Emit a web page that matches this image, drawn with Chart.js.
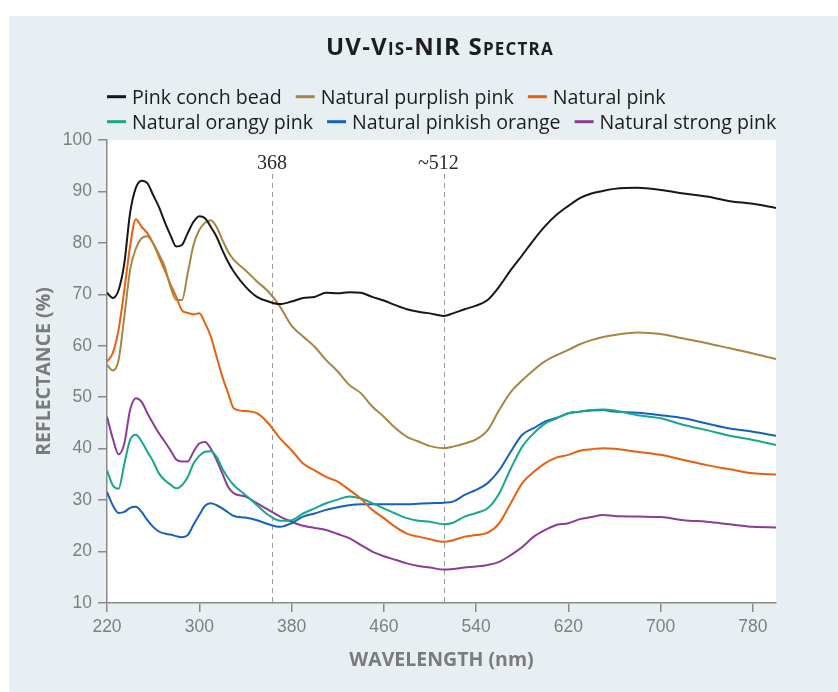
<!DOCTYPE html>
<html>
<head>
<meta charset="utf-8">
<title>UV-Vis-NIR Spectra</title>
<script src="https://cdn.jsdelivr.net/npm/chart.js@4.4.1/dist/chart.umd.min.js"></script>
<style>
  html, body { margin: 0; padding: 0; background: #fff; }
  #wrap { width: 838px; height: 692px; }
</style>
</head>
<body>
<div id="wrap"><canvas id="spectra" width="838" height="692"></canvas></div>
<script>
// wavelengths (nm) shared by all six spectra
const wavelengths = [220, 225, 230, 235, 240, 245, 250, 255, 260, 265, 270, 275, 280, 285, 290, 295, 300, 305, 310, 315, 320, 325, 330,
  340, 350, 360, 370, 380, 390, 400, 410, 420, 430, 440, 450, 460, 470, 480, 490, 500, 512,
  520, 530, 540, 550, 560, 570, 580, 590, 600, 610, 620, 630, 640, 650, 660, 680, 700, 720, 740, 760, 780, 800];

// reflectance (%)
const pinkConchBead = [70.3, 69.3, 70.8, 76, 85.8, 90.7, 92.1, 91.6, 89.3, 87, 84.1, 81.5, 79.3, 79.6, 81.9, 84.1, 85.2, 84.8, 83.1, 81.2, 78.6, 76.3, 74.4,
  71.5, 69.5, 68.6, 68.1, 68.6, 69.3, 69.5, 70.3, 70.2, 70.4, 70.3, 69.5, 68.8, 67.9, 67.1, 66.6, 66.3, 65.8,
  66.3, 67.1, 67.8, 68.9, 71.5, 74.7, 77.6, 80.6, 83.3, 85.5, 87.2, 88.7, 89.6, 90.1, 90.5, 90.7, 90.3, 89.6, 89.0, 88.1, 87.6, 86.8];
const purplishPink = [56.3, 55.2, 57.2, 65.6, 74.7, 78.9, 80.9, 81.3, 79.9, 77.8, 75.4, 71.5, 68.9, 68.9, 74.1, 79.6, 82.5, 83.9, 84.4, 83.1, 80.6, 78.3, 76.7,
  74.7, 72.5, 70.5, 67.6, 63.9, 61.8, 59.8, 57.2, 55, 52.4, 50.8, 48.2, 46.2, 44, 42.3, 41.4, 40.5, 40.1,
  40.4, 41, 41.8, 43.6, 47.5, 51, 53.3, 55.3, 57, 58.2, 59.2, 60.3, 61.1, 61.7, 62.1, 62.6, 62.3, 61.4, 60.5, 59.5, 58.5, 57.4];
const naturalPink = [56.9, 58.6, 63.1, 70.8, 79.3, 84.6, 83.1, 81.9, 79.9, 77.3, 74.7, 72, 69.5, 66.9, 66.4, 66.1, 66.3, 64.4, 61.8, 57.9, 54, 50.8, 47.8,
  47.3, 46.9, 44.9, 42, 39.7, 37.1, 35.8, 34.5, 33.6, 32, 30.3, 28.1, 26.5, 24.8, 23.5, 22.9, 22.4, 21.9,
  22.2, 22.9, 23.2, 23.7, 25.5, 29.4, 33.3, 35.5, 37.2, 38.3, 38.8, 39.6, 39.9, 40.1, 40, 39.4, 38.8, 37.8, 36.8, 36, 35.2, 35];
const orangyPink = [35.8, 32.9, 32.2, 37, 41.7, 42.7, 41.4, 39.4, 37.5, 35.2, 33.9, 33, 32.3, 32.9, 34.5, 37.1, 38.6, 39.4, 39.5, 38.4, 36.1, 34.3, 32.9,
  31, 29, 27.1, 26, 26.1, 27.4, 28.4, 29.4, 30.1, 30.7, 30.3, 29.4, 28.4, 27.4, 26.5, 26, 25.8, 25.3,
  25.6, 26.8, 27.5, 28.4, 31.3, 36.1, 40.4, 43, 44.9, 45.9, 46.9, 47.2, 47.5, 47.6, 47.4, 46.5, 45.9, 44.6, 43.6, 42.5, 41.7, 40.7];
const pinkishOrange = [31.6, 29, 27.5, 27.7, 28.5, 28.7, 27.7, 26.1, 24.8, 23.9, 23.5, 23.3, 23, 22.8, 23.2, 25.2, 27.1, 28.9, 29.4, 29, 28.4, 27.6, 26.9,
  26.6, 26.1, 25.3, 24.8, 25.5, 26.8, 27.4, 28.1, 28.6, 29, 29.2, 29.2, 29.2, 29.2, 29.2, 29.3, 29.4, 29.5,
  29.7, 31, 32, 33.3, 35.8, 39.4, 42.7, 44, 45.3, 46, 46.9, 47.2, 47.4, 47.5, 47.2, 47, 46.5, 45.9, 44.9, 43.9, 43.3, 42.5];
const strongPink = [46.2, 42, 38.9, 41, 47.5, 49.8, 49.1, 46.9, 44.9, 43, 41.4, 39.7, 37.9, 37.5, 37.5, 39.4, 41, 41.3, 40, 37.8, 35.2, 32.6, 31.3,
  30.7, 29.4, 28.1, 26.8, 25.8, 25, 24.6, 24.2, 23.4, 22.6, 21.3, 20, 19.1, 18.4, 17.7, 17.2, 16.9, 16.5,
  16.6, 16.9, 17.1, 17.4, 18, 19.3, 20.9, 22.9, 24.2, 25.2, 25.5, 26.3, 26.7, 27.1, 26.9, 26.8, 26.7, 26.1, 25.8, 25.3, 24.8, 24.7];

const seriesNames = ['Pink conch bead', 'Natural purplish pink', 'Natural pink',
  'Natural orangy pink', 'Natural pinkish orange', 'Natural strong pink'];
const seriesValues = [pinkConchBead, purplishPink, naturalPink, orangyPink, pinkishOrange, strongPink];
const seriesColors = ['#15181b', '#a8863f', '#e8600e', '#17a78b', '#1461be', '#8c3b99'];

const xTicks = [220, 300, 380, 460, 540, 620, 700, 780];
const markerAt = [363, 512];
const markerText = ['368', '~512'];
const chartTitle = 'UV-Vis-NIR Spectra';

const PANEL = '#e8eff2';

// panel background + white plot area
const backdrop = {
  id: 'backdrop',
  beforeDraw(chart) {
    const { ctx, chartArea } = chart;
    ctx.save();
    ctx.fillStyle = '#fff';
    ctx.fillRect(0, 0, chart.width, chart.height);
    ctx.fillStyle = PANEL;
    ctx.fillRect(9, 16, chart.width - 9, chart.height - 16);
    ctx.fillStyle = '#fff';
    ctx.fillRect(chartArea.left, chartArea.top, chartArea.right - chartArea.left, chartArea.bottom - chartArea.top);
    ctx.restore();
  },
  beforeDatasetsDraw(chart) {
    // dashed reference lines
    const { ctx, chartArea, scales } = chart;
    ctx.save();
    ctx.strokeStyle = '#9a9a9a';
    ctx.lineWidth = 1;
    ctx.setLineDash([5, 4]);
    markerAt.forEach(v => {
      const x = Math.round(scales.x.getPixelForValue(v)) + 0.5;
      ctx.beginPath();
      ctx.moveTo(x, 174);
      ctx.lineTo(x, chartArea.bottom);
      ctx.stroke();
    });
    ctx.restore();
  }
};

// title, two-row legend and marker labels
const header = {
  id: 'header',
  afterDraw(chart) {
    const { ctx, scales } = chart;
    ctx.save();
    ctx.fillStyle = '#1d1d1d';
    ctx.textAlign = 'center';
    ctx.textBaseline = 'alphabetic';
    ctx.font = 'bold 24px "Open Sans"';
    ctx.fontVariantCaps = 'small-caps';
    ctx.letterSpacing = '1.2px';
    ctx.fillText(chartTitle, 440, 55);
    ctx.fontVariantCaps = 'normal';
    ctx.letterSpacing = '0px';

    // legend
    ctx.font = '19.6px "Open Sans"';
    ctx.textAlign = 'left';
    const rows = [[0, 1, 2], [3, 4, 5]];
    rows.forEach((row, r) => {
      let x = 107;
      const midY = 96.7 + r * 25;
      row.forEach(i => {
        ctx.strokeStyle = seriesColors[i];
        ctx.lineWidth = 3;
        ctx.beginPath();
        ctx.moveTo(x, midY);
        ctx.lineTo(x + 19, midY);
        ctx.stroke();
        ctx.fillStyle = '#1d1d1d';
        ctx.fillText(seriesNames[i], x + 25, midY + 6.8);
        x += 25 + ctx.measureText(seriesNames[i]).width + 14;
      });
    });

    // labels over the dashed lines
    ctx.font = '20px "Liberation Serif"';
    ctx.fillStyle = '#2a2a2a';
    ctx.textAlign = 'center';
    markerAt.forEach((v, i) => {
      const t = markerText[i];
      const lead = t.startsWith('~') ? ctx.measureText('~').width / 2 : 0;
      ctx.fillText(t, scales.x.getPixelForValue(v) - lead, 169);
    });
    ctx.restore();
  }
};

const tickFont = { family: '"Liberation Sans", Arial, sans-serif', size: 17.5 };
const axisTitleFont = { family: '"Open Sans", sans-serif', size: 19.5, weight: 'bold' };

new Chart(document.getElementById('spectra'), {
  type: 'line',
  data: {
    labels: wavelengths,
    datasets: seriesNames.map((name, i) => ({
      label: name,
      data: wavelengths.map((w, k) => ({ x: w, y: seriesValues[i][k] })),
      borderColor: seriesColors[i],
      backgroundColor: seriesColors[i],
      borderWidth: 2,
      pointRadius: 0,
      cubicInterpolationMode: 'monotone',
      fill: false
    }))
  },
  options: {
    responsive: false,
    animation: false,
    layout: { padding: { top: 140, right: 62, left: 0, bottom: 0 } },
    plugins: {
      legend: { display: false },
      title: { display: false },
      tooltip: { enabled: false }
    },
    scales: {
      x: {
        type: 'linear',
        min: 220,
        max: 800,
        afterBuildTicks: s => { s.ticks = xTicks.map(v => ({ value: v })); },
        afterFit: s => { s.height = 89; },
        border: { color: '#8a8a8a', width: 1.5 },
        grid: { drawOnChartArea: false, tickLength: 9, color: '#8a8a8a', lineWidth: 1.5 },
        ticks: { color: '#7f7f7f', font: tickFont, padding: 5, maxRotation: 0 },
        title: { display: true, text: 'WAVELENGTH (nm)', color: '#7b7b7b', font: axisTitleFont, padding: { bottom: 20 } }
      },
      y: {
        min: 10,
        max: 100,
        afterFit: s => { s.width = 107; },
        border: { color: '#8a8a8a', width: 1.5 },
        grid: { drawOnChartArea: false, tickLength: 9, color: '#8a8a8a', lineWidth: 1.5 },
        ticks: { stepSize: 10, color: '#7f7f7f', font: tickFont, padding: 6 },
        title: { display: true, text: 'REFLECTANCE (%)', color: '#7b7b7b', font: axisTitleFont, padding: { top: 33 } }
      }
    }
  },
  plugins: [backdrop, header]
});
</script>
</body>
</html>
